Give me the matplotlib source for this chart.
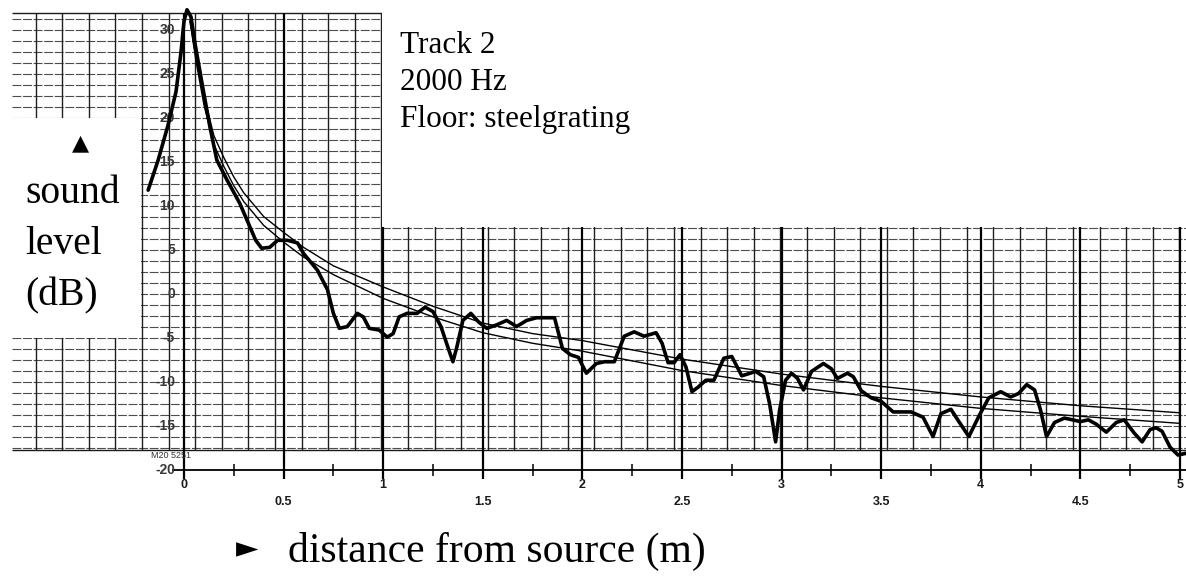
import matplotlib
matplotlib.use('Agg')
import matplotlib.pyplot as plt
import numpy as np
from matplotlib.patches import Rectangle

# ---------------- data ----------------
# measured sound level (thick pen trace): distance (m), level (dB)
meas_x = [-0.18, -0.13, -0.08, -0.04, -0.015, 0.0, 0.015, 0.035, 0.055, 0.09, 0.13, 0.165,
          0.215, 0.28, 0.32, 0.36, 0.39, 0.43, 0.47, 0.52, 0.57, 0.60, 0.67, 0.72, 0.75,
          0.78, 0.82, 0.87, 0.90, 0.93, 0.98, 1.02, 1.05, 1.08, 1.12, 1.17, 1.21, 1.25,
          1.29, 1.33, 1.35, 1.37, 1.40, 1.44, 1.48, 1.52, 1.57, 1.62, 1.67, 1.72, 1.77,
          1.86, 1.90, 1.94, 1.98, 2.02, 2.07, 2.11, 2.16, 2.21, 2.26, 2.31, 2.37, 2.40,
          2.43, 2.46, 2.49, 2.52, 2.55, 2.58, 2.62, 2.66, 2.71, 2.75, 2.80, 2.87, 2.91,
          2.94, 2.97, 2.99, 3.02, 3.05, 3.08, 3.11, 3.15, 3.21, 3.25, 3.28, 3.33, 3.36,
          3.40, 3.45, 3.50, 3.56, 3.65, 3.71, 3.76, 3.80, 3.85, 3.89, 3.94, 3.99, 4.04,
          4.10, 4.15, 4.19, 4.23, 4.27, 4.30, 4.33, 4.37, 4.42, 4.50, 4.54, 4.58, 4.63,
          4.68, 4.72, 4.77, 4.81, 4.85, 4.88, 4.91, 4.95, 4.99, 5.03]
meas_db = [11.8, 15.2, 19.2, 23.0, 27.5, 31.0, 32.3, 31.5, 28.5, 24.0, 19.0, 15.2,
           13.0, 10.3, 8.2, 6.1, 5.2, 5.3, 6.1, 6.1, 5.8, 4.6, 2.7, 0.5, -2.2,
           -3.9, -3.7, -2.2, -2.6, -3.9, -4.1, -4.9, -4.5, -2.6, -2.2, -2.2, -1.5, -2.0,
           -3.7, -6.4, -7.7, -6.0, -3.0, -2.2, -3.2, -3.9, -3.5, -3.0, -3.7, -3.0, -2.7,
           -2.7, -6.2, -6.9, -7.2, -9.0, -7.9, -7.7, -7.7, -4.8, -4.3, -4.8, -4.4, -5.6,
           -7.8, -7.8, -6.9, -8.3, -11.1, -10.6, -9.8, -9.8, -7.3, -7.1, -9.3, -8.8, -9.4,
           -12.5, -16.8, -13.2, -9.8, -9.0, -9.6, -10.9, -8.8, -7.9, -8.5, -9.6, -9.0, -9.4,
           -11.0, -11.8, -12.2, -13.4, -13.4, -14.0, -16.2, -13.6, -13.1, -14.5, -16.2, -13.9, -11.8,
           -11.1, -11.7, -11.3, -10.3, -10.9, -13.2, -16.2, -14.6, -14.1, -14.5, -14.3, -14.8, -15.7,
           -14.6, -14.3, -15.8, -16.8, -15.4, -15.2, -15.6, -17.4, -18.3, -18.1]

# two thin reference decay curves
ref_x = [0.03, 0.06, 0.10, 0.15, 0.20, 0.25, 0.30, 0.40, 0.50, 0.60, 0.75, 1.00,
         1.25, 1.50, 1.75, 2.00, 2.50, 3.00, 3.50, 4.00, 4.50, 5.00]
ref_upper_db = [31.0, 27.0, 22.5, 18.0, 15.5, 13.3, 11.5, 8.8, 7.0, 5.3, 3.2, 0.8,
                -1.4, -3.3, -4.5, -5.3, -7.4, -9.1, -10.5, -11.7, -12.7, -13.5]
ref_lower_db = [31.0, 26.5, 21.5, 17.0, 14.5, 12.3, 10.5, 7.8, 5.9, 4.2, 2.2, -0.5,
                -2.6, -4.4, -5.6, -6.5, -8.7, -10.4, -11.8, -13.0, -13.9, -14.7]

y_tick_values = [30, 25, 20, 15, 10, 5, 0, -5, -10, -15, -20]
x_int_labels = ["0", "1", "2", "3", "4", "5"]
x_half_labels = ["0.5", "1.5", "2.5", "3.5", "4.5"]
info_lines = ["Track 2", "2000 Hz", "Floor: steelgrating"]
ylabel_lines = ["sound", "level", "(dB)"]
xlabel_text = "distance from source (m)"
paper_code = "M20 5251"

# ---------------- figure / scales ----------------
W, H = 1186, 578
fig = plt.figure(figsize=(W / 100, H / 100), dpi=100)
ax = fig.add_axes([0, 0, 1, 1])
X0PX, XS = 184.0, 199.2   # pixel of 0 m, pixels per metre
Y0PX, YS = 294.0, 8.8     # pixel of 0 dB, pixels per dB


def px2x(p):
    return (p - X0PX) / XS


def py2y(p):
    return (Y0PX - p) / YS


ax.set_xlim(px2x(0), px2x(W))
ax.set_ylim(py2y(H), py2y(0))
ax.axis('off')

serif = ['Liberation Serif', 'DejaVu Serif']
sans = ['Liberation Sans', 'DejaVu Sans']

paper_top = py2y(13)
paper_bot = py2y(450)

# chart paper: horizontal rulings
for v in np.arange(-17.5, 31.3, 1.25):
    ax.hlines(v, px2x(12), px2x(W), color='0.3', lw=0.8, linestyle=(0, (8, 1.5)), zorder=1)
ax.hlines([paper_top, paper_bot], px2x(12), px2x(W), color='0.1', lw=1.0, zorder=1)

# chart paper: vertical rulings
for k in range(-4, 40):
    ax.vlines(px2x(142 + 26.6 * k), paper_bot, paper_top, color='0.12', lw=1.0, zorder=1)

# half-metre scale lines
for xv in np.arange(0, 5.01, 0.5):
    ax.vlines(xv, -21.0, paper_top, color='black', lw=1.6, zorder=2)

# white cut-out areas (pasted labels)
ax.add_patch(Rectangle((px2x(0), py2y(338)), 141 / XS, (338 - 118) / YS,
                       facecolor='white', edgecolor='none', zorder=3))
ax.add_patch(Rectangle((px2x(382), py2y(227)), (W - 382) / XS, 227 / YS,
                       facecolor='white', edgecolor='none', zorder=3))

# distance axis line and quarter ticks
ax.hlines(-20, px2x(172), px2x(W), color='black', lw=1.3, zorder=2)
for xv in np.arange(0.25, 5.0, 0.5):
    ax.vlines(xv, -20.7, -19.3, color='black', lw=1.1, zorder=2)

# dB scale labels printed on the paper
for v in y_tick_values:
    ax.text(px2x(175), v, str(v), ha='right', va='center', fontsize=10,
            fontweight='bold', color='0.22', family=sans, zorder=4)

# distance labels
for lab in x_int_labels:
    ax.text(float(lab), py2y(485), lab, ha='center', va='center', fontsize=9,
            fontweight='bold', color='0.1', family=sans, zorder=4)
for lab in x_half_labels:
    ax.text(float(lab), py2y(502), lab, ha='center', va='center', fontsize=9,
            fontweight='bold', color='0.1', family=sans, zorder=4)

ax.text(px2x(151), py2y(455), paper_code, ha='left', va='center', fontsize=6.5,
        color='0.2', family=sans, zorder=4)

# reference decay curves
ax.plot(ref_x, ref_upper_db, color='black', lw=1.0, zorder=5)
ax.plot(ref_x, ref_lower_db, color='black', lw=1.0, zorder=5)

# measured trace
ax.plot(meas_x, meas_db, color='black', lw=2.6, solid_joinstyle='round',
        solid_capstyle='round', zorder=6)

# info text
for i, line in enumerate(info_lines):
    ax.text(px2x(400), py2y(53 + 37 * i), line, ha='left', va='baseline',
            fontsize=22.5, family=serif, color='black', zorder=7)

# y axis label
ax.text(px2x(80), py2y(143), '\u25B2', ha='center', va='center', fontsize=16,
        family=['DejaVu Sans'], color='black', zorder=7)
for i, line in enumerate(ylabel_lines):
    ax.text(px2x(25), py2y(203 + 51 * i), line, ha='left', va='baseline',
            fontsize=28.5, family=serif, color='black', zorder=7)

# x axis label
ax.text(px2x(247), py2y(549), '\u25BA', ha='center', va='center', fontsize=21,
        family=['DejaVu Sans'], color='black', zorder=7)
ax.text(px2x(288), py2y(562), xlabel_text, ha='left', va='baseline',
        fontsize=30, family=serif, color='black', zorder=7)

fig.savefig('out.png', dpi=100)
